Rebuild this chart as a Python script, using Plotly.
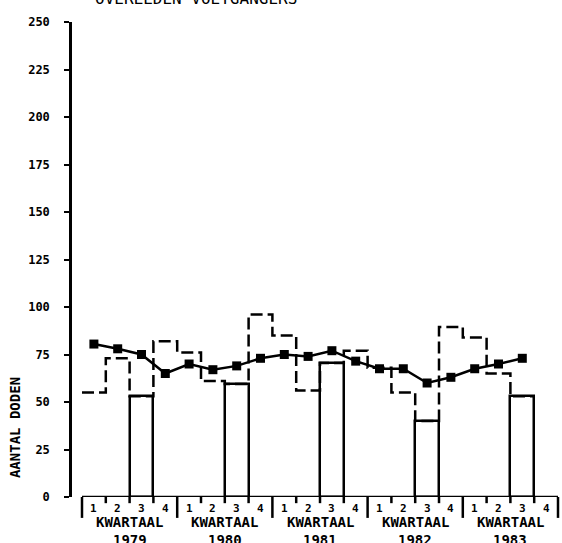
import plotly.graph_objects as go

years = ["1979", "1980", "1981", "1982", "1983"]
quarter_labels = ["1", "2", "3", "4"]
# quarterly values (Q1 1979 .. Q3 1983)
quarterly = [55, 73, 53, 82, 76, 61, 59.5, 96, 85, 56, 70.5, 77, 68, 55, 40, 89.5, 84, 65, 53]
# smoothed trend line values
trend = [80.5, 78, 75, 65, 70, 67, 69, 73, 75, 74, 77, 71.5, 67.5, 67.5, 60, 63, 67.5, 70, 73]
y_ticks = [0, 25, 50, 75, 100, 125, 150, 175, 200, 225, 250]

n_q = len(years) * 4
idx = list(range(len(quarterly)))

fig = go.Figure()

# Q3 bars (solid)
q3_idx = [i for i in idx if i % 4 == 2]
fig.add_trace(go.Bar(
    x=q3_idx, y=[quarterly[i] for i in q3_idx], width=1,
    marker=dict(color="white", line=dict(color="black", width=2.5)),
    hoverinfo="skip", showlegend=False,
))

# dashed step line
step_x = [i - 0.5 for i in idx] + [idx[-1] + 0.5]
step_y = quarterly + [quarterly[-1]]
fig.add_trace(go.Scatter(
    x=step_x, y=step_y, mode="lines", line_shape="hv",
    line=dict(color="black", width=2.5, dash="12px,5px"),
    showlegend=False, hoverinfo="skip",
))

# trend line with square markers
fig.add_trace(go.Scatter(
    x=idx, y=trend, mode="lines+markers",
    line=dict(color="black", width=2.5),
    marker=dict(symbol="square", size=9, color="black"),
    showlegend=False, cliponaxis=False,
))

shapes = []
# x axis line
shapes.append(dict(type="line", xref="x", yref="y", x0=-0.5, x1=n_q - 0.5, y0=0, y1=0,
                   line=dict(color="black", width=2.5)))
for b in range(n_q + 1):
    xb = b - 0.5
    if b % 4 == 0:
        y1 = -0.044
    else:
        y1 = -0.013
    shapes.append(dict(type="line", xref="x", yref="paper", x0=xb, x1=xb, y0=0, y1=y1,
                       line=dict(color="black", width=2.5)))

annotations = []
for q in range(n_q):
    annotations.append(dict(x=q, y=0, xref="x", yref="paper", yanchor="middle",
                            yshift=-11, text=quarter_labels[q % 4], showarrow=False,
                            font=dict(family="DejaVu Sans Mono", size=11, color="black", weight="bold")))
for k, yr in enumerate(years):
    xc = 4 * k + 1.5
    annotations.append(dict(x=xc, y=0, xref="x", yref="paper", yanchor="middle",
                            yshift=-25, text="KWARTAAL", showarrow=False,
                            font=dict(family="DejaVu Sans Mono", size=14, color="black", weight="bold")))
    annotations.append(dict(x=xc, y=0, xref="x", yref="paper", yanchor="middle",
                            yshift=-43, text=yr, showarrow=False,
                            font=dict(family="DejaVu Sans Mono", size=14, color="black", weight="bold")))

# title (partly cut off at the top, as in the reference)
annotations.append(dict(x=0.043, y=1.026, xref="paper", yref="paper", xanchor="left", yanchor="bottom",
                        text="OVERLEDEN VOETGANGERS", showarrow=False,
                        font=dict(family="DejaVu Sans Mono", size=16, color="black")))
annotations.append(dict(x=-0.117, y=0.147, xref="paper", yref="paper", xanchor="center",
                        yanchor="middle", textangle=-90,
                        text="AANTAL DODEN", showarrow=False,
                        font=dict(family="DejaVu Sans Mono", size=14, color="black", weight="bold")))

fig.update_layout(
    width=562, height=543,
    margin=dict(l=72, r=2, t=22, b=46),
    plot_bgcolor="white", paper_bgcolor="white",
    xaxis=dict(range=[-0.92, n_q - 0.416], showgrid=False, zeroline=False, showline=False,
               showticklabels=False, ticks=""),
    yaxis=dict(range=[0, 250], tickvals=y_ticks, showgrid=False, zeroline=False,
               showline=True, linecolor="black", linewidth=2.5, ticks="outside",
               ticklen=5, tickwidth=2, tickcolor="black", ticklabelstandoff=12,
               tickfont=dict(family="DejaVu Sans Mono", size=12, color="black", weight="bold")),
    shapes=shapes, annotations=annotations,
    bargap=0,
)

fig.write_html("out.html", config={"displayModeBar": False},
               post_script="document.body.style.margin='0';")
